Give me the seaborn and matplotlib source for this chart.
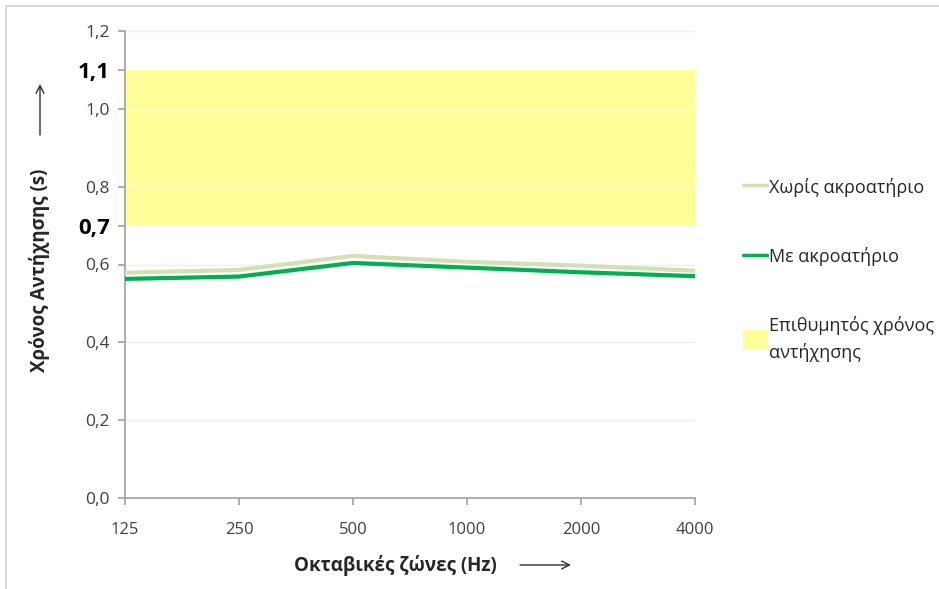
import matplotlib
matplotlib.use("Agg")
import matplotlib.pyplot as plt
import seaborn as sns
import pandas as pd
from matplotlib.patches import Rectangle, Patch
from matplotlib.lines import Line2D

bands = ["125", "250", "500", "1000", "2000", "4000"]
without_audience = [0.579, 0.586, 0.622, 0.607, 0.597, 0.584]
with_audience = [0.563, 0.569, 0.604, 0.592, 0.580, 0.570]
target_low, target_high = 0.7, 1.1
y_ticks = [0.0, 0.2, 0.4, 0.6, 0.8, 1.0, 1.2]
bold_ticks = [0.7, 1.1]

series_names = ["Χωρίς ακροατήριο", "Με ακροατήριο"]
target_name = "Επιθυμητός χρόνος\nαντήχησης"

df = pd.DataFrame({
    "band": bands * 2,
    "rt": without_audience + with_audience,
    "series": [series_names[0]] * len(bands) + [series_names[1]] * len(bands),
})

sns.set_style("white")
plt.rcParams["font.family"] = ["Open Sans", "DejaVu Sans"]

light_c = "#d3e0b6"
dark_c = "#00b050"
yellow = "#ffff99"

fig = plt.figure(figsize=(9.39, 5.89), dpi=100)
ax = fig.add_axes([125 / 939, 1 - 498 / 589, (695 - 125) / 939, (498 - 31) / 589])

# frame around figure
fig.patches.append(Rectangle((6 / 939, -0.05), 1.0, 1 - 6 / 589 + 0.05,
                             transform=fig.transFigure, fill=False,
                             edgecolor="#d0d0d0", linewidth=1.2, zorder=0))

ax.axhspan(target_low, target_high, color=yellow, zorder=0, lw=0)
for y in [0.2, 0.4, 0.6, 0.8, 1.0, 1.2]:
    ax.axhline(y, color="#eeeeee" if y in (0.2, 0.4, 0.6, 1.2) else "white",
               lw=1.0, zorder=0.5)

sns.lineplot(data=df, x="band", y="rt", hue="series",
             palette={series_names[0]: light_c, series_names[1]: dark_c},
             linewidth=3, ax=ax, legend=False, sort=False, zorder=3)

ax.set_xlim(0, len(bands) - 1)
ax.set_ylim(0, 1.2)
ax.set_xticks(range(len(bands)))
ax.set_xticklabels(bands, fontsize=12, color="#404040")
all_ticks = sorted(y_ticks + bold_ticks)
ax.set_yticks(all_ticks)
labels = []
for t in all_ticks:
    labels.append(f"{t:.1f}".replace(".", ","))
ax.set_yticklabels(labels)
for lab, t in zip(ax.get_yticklabels(), all_ticks):
    if t in bold_ticks:
        lab.set_fontweight("bold")
        lab.set_fontsize(16)
        lab.set_color("black")
    else:
        lab.set_fontsize(12.5)
        lab.set_color("#404040")

for s in ["top", "right"]:
    ax.spines[s].set_visible(False)
for s in ["left", "bottom"]:
    ax.spines[s].set_color("#a0a0a0")
    ax.spines[s].set_linewidth(1.2)
ax.tick_params(axis="both", which="both", direction="out", length=5,
               color="#a0a0a0", width=1.2, left=True, bottom=True)
ax.tick_params(axis="x", pad=12)
ax.tick_params(axis="y", pad=6)
ax.set_xlabel("")
ax.set_ylabel("")

fig.text(40 / 939, 1 - 270 / 589, "Χρόνος Αντήχησης (s)", rotation=90,
         ha="center", va="center", fontsize=13.5, fontweight="bold")
fig.text(395 / 939, 1 - 566 / 589, "Οκταβικές ζώνες (Hz)", ha="center",
         va="center", fontsize=13.5, fontweight="bold")

arrow_kw = dict(arrowstyle="->", color="#303030", lw=1.0,
                mutation_scale=14, shrinkA=0, shrinkB=0)
fig.add_artist(matplotlib.patches.FancyArrowPatch(
    (40 / 939, 1 - 135 / 589), (40 / 939, 1 - 84 / 589),
    transform=fig.transFigure, **arrow_kw))
fig.add_artist(matplotlib.patches.FancyArrowPatch(
    (520 / 939, 1 - 565 / 589), (571 / 939, 1 - 565 / 589),
    transform=fig.transFigure, **arrow_kw))

handles = [Line2D([], [], color=light_c, lw=2.5),
           Line2D([], [], color=dark_c, lw=2.5),
           Patch(facecolor=yellow, edgecolor="none")]
leg = fig.legend(handles, series_names + [target_name],
                 loc="upper left", bbox_to_anchor=(734 / 939, 1 - 168 / 589),
                 frameon=False, fontsize=13, labelspacing=2.75,
                 handlelength=1.3, handleheight=1.3, handletextpad=0.15,
                 borderpad=0)
for t in leg.get_texts():
    t.set_color("#262626")
    t.set_linespacing(1.5)

fig.savefig("out.png", dpi=100)
